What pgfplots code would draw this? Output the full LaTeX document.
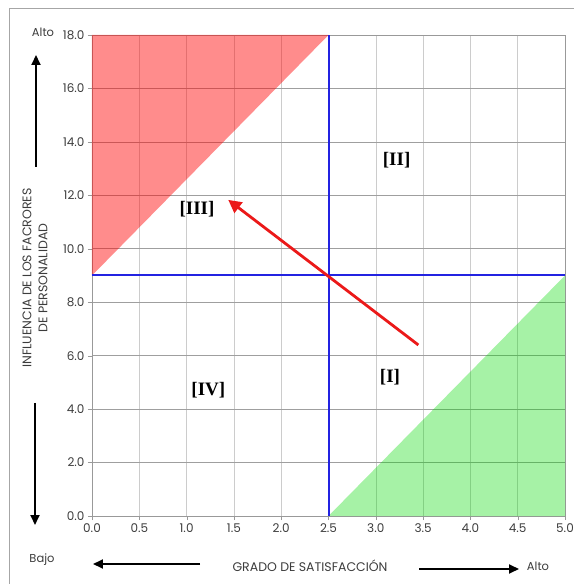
\documentclass[border=0pt]{standalone}
\usepackage{fontspec}
\setmainfont{Poppins}
\newfontfamily\quadfont{Liberation Serif}
\usepackage{pgfplots}
\pgfplotsset{compat=1.18}
\usetikzlibrary{arrows.meta}
\definecolor{txt}{RGB}{60,60,60}
\definecolor{lineblue}{RGB}{35,35,225}
\definecolor{arrred}{RGB}{235,25,25}
\begin{document}
\begin{tikzpicture}[x=1pt,y=1pt]
\path[use as bounding box] (-92,-68) rectangle (482,516);
\draw[gray!70, line width=0.8pt] (-83,-68) -- (-83,508) -- (482,508);
\begin{axis}[
    at={(0,0)}, anchor=south west,
    scale only axis, width=473pt, height=481pt,
    xmin=0, xmax=5, ymin=0, ymax=18,
    xtick={0,0.5,...,5}, ytick={0,2,...,18},
    grid=major,
    x grid style={gray!40, line width=0.6pt},
    y grid style={gray!75, line width=0.6pt},
    axis line style={gray!80, line width=0.7pt},
    tick align=outside, tick pos=left, major tick length=4pt,
    tick style={gray!80},
    ticklabel style={font=\fontsize{12}{14}\selectfont, text=txt},
    /pgf/number format/assume math mode=true,
    /pgf/number format/fixed,
    /pgf/number format/fixed zerofill,
    /pgf/number format/precision=1,
]
\addplot[draw=none, fill=red, fill opacity=0.45] coordinates {(0,9) (0,18) (2.5,18)} -- cycle;
\addplot[draw=none, fill=green!85!black, fill opacity=0.35] coordinates {(2.5,0) (5,0) (5,9)} -- cycle;
\addplot[color=lineblue, line width=2pt, mark=none] coordinates {(2.5,0) (2.5,18)};
\addplot[color=lineblue, line width=2pt, mark=none] coordinates {(0,9) (5,9)};
\addplot[color=arrred, line width=2.8pt, mark=none, -{Triangle[length=13pt,width=13pt]}] coordinates {(3.45,6.4) (1.44,11.83)};
\node[font=\quadfont\bfseries\fontsize{19}{21}\selectfont] at (axis cs:3.22,13.3) {[II]};
\node[font=\quadfont\bfseries\fontsize{19}{21}\selectfont] at (axis cs:1.11,11.5) {[III]};
\node[font=\quadfont\bfseries\fontsize{19}{21}\selectfont] at (axis cs:1.23,4.7) {[IV]};
\node[font=\quadfont\bfseries\fontsize{19}{21}\selectfont] at (axis cs:3.15,5.2) {[I]};
\end{axis}
\node[text=txt, font=\fontsize{11.5}{13}\selectfont] at (-49,484) {Alto};
\draw[black, line width=1.8pt, -{Triangle[length=10pt,width=9pt]}] (-56,349) -- (-56,461);
\draw[black, line width=1.8pt, -{Triangle[length=10pt,width=9pt]}] (-57,113) -- (-57,-9);
\node[text=txt, font=\fontsize{12.5}{16}\selectfont, rotate=90, align=center] at (-57,238) {INFLUENCIA DE LOS FACRORES\\DE PERSONALIDAD};
\node[text=txt, font=\fontsize{11.5}{13}\selectfont] at (-50,-44) {Bajo};
\draw[black, line width=1.8pt, -{Triangle[length=10pt,width=9pt]}] (108,-48) -- (1,-48);
\node[text=txt, font=\fontsize{12.5}{15}\selectfont] at (218,-50) {GRADO DE SATISFACCIÓN};
\draw[black, line width=1.8pt, -{Triangle[length=10pt,width=9pt]}] (327,-53) -- (427,-53);
\node[text=txt, font=\fontsize{11.5}{13}\selectfont] at (446,-50) {Alto};
\end{tikzpicture}
\end{document}
